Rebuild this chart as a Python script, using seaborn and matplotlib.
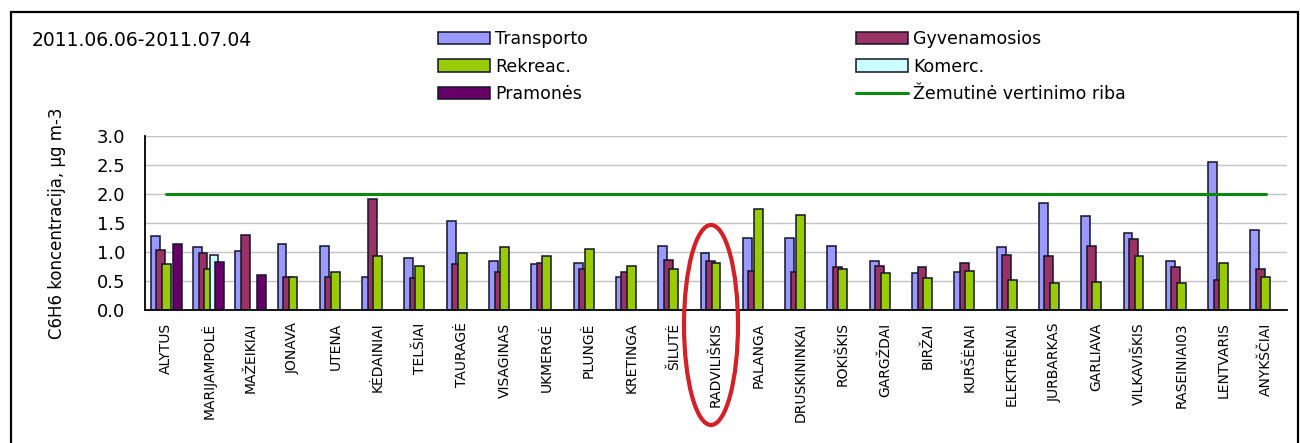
import numpy as np
import pandas as pd
import seaborn as sns
import matplotlib.pyplot as plt
from matplotlib.patches import Patch, Ellipse, Rectangle
from matplotlib.lines import Line2D

stations = ['ALYTUS', 'MARIJAMPOLĖ', 'MAŽEIKIAI', 'JONAVA', 'UTENA', 'KĖDAINIAI',
            'TELŠIAI', 'TAURAGĖ', 'VISAGINAS', 'UKMERGĖ', 'PLUNGĖ', 'KRETINGA',
            'ŠILUTĖ', 'RADVILIŠKIS', 'PALANGA', 'DRUSKININKAI', 'ROKIŠKIS',
            'GARGŽDAI', 'BIRŽAI', 'KURŠĖNAI', 'ELEKTRĖNAI', 'JURBARKAS',
            'GARLIAVA', 'VILKAVIŠKIS', 'RASEINIAI03', 'LENTVARIS', 'ANYKŠČIAI']
nan = np.nan
transporto = [1.28, 1.09, 1.01, 1.14, 1.11, 0.57, 0.90, 1.54, 0.84, 0.79, 0.81, 0.57, 1.11, 0.98,
              1.25, 1.25, 1.11, 0.84, 0.63, 0.66, 1.09, 1.84, 1.62, 1.32, 0.84, 2.56, 1.38]
gyvenamosios = [1.03, 0.98, 1.30, 0.57, 0.57, 1.91, 0.55, 0.79, 0.65, 0.81, 0.71, 0.65, 0.87, 0.84,
                0.68, 0.65, 0.74, 0.76, 0.74, 0.81, 0.95, 0.93, 1.11, 1.22, 0.74, 0.52, 0.71]
rekreac = [0.79, 0.71, nan, 0.57, 0.65, 0.93, 0.76, 0.99, 1.08, 0.93, 1.05, 0.76, 0.71, 0.81,
           1.75, 1.64, 0.71, 0.63, 0.55, 0.68, 0.52, 0.47, 0.49, 0.93, 0.47, 0.81, 0.57]
komerc = [nan, 0.95] + [nan] * 25
pramones = [1.14, 0.82, 0.60] + [nan] * 24
riba = 2.0

series = ['Transporto', 'Gyvenamosios', 'Rekreac.', 'Komerc.', 'Pramonės']
colors = ['#9999ff', '#993366', '#99cc00', '#ccffff', '#660066']
line_label = 'Žemutinė vertinimo riba'

df = pd.DataFrame({'station': stations, 'Transporto': transporto, 'Gyvenamosios': gyvenamosios,
                   'Rekreac.': rekreac, 'Komerc.': komerc, 'Pramonės': pramones})
long_df = df.melt(id_vars='station', var_name='series', value_name='value').dropna()

sns.set_style('white')
plt.rcParams['font.family'] = ['DejaVu Sans']
plt.rcParams.update({'text.color': 'black', 'axes.labelcolor': 'black',
                     'xtick.color': 'black', 'ytick.color': 'black'})

fig = plt.figure(figsize=(13, 4.43), dpi=100)
ax = fig.add_axes([145/1300, 1-310/443, 1142/1300, 174/443])

sns.barplot(data=long_df, x='station', y='value', hue='series', order=stations,
            hue_order=series, palette=colors, width=0.65, edgecolor='#141428',
            linewidth=1.1, saturation=1, legend=False, ax=ax)

# Excel-style overlapping bars: widen each bar around its own centre
for p in ax.patches:
    cx = p.get_x() + p.get_width() / 2
    p.set_width(0.21)
    p.set_x(cx - 0.105)

n = len(stations)
sns.lineplot(x=np.arange(n), y=[riba] * n, color='#0a8a0a', linewidth=2.2, ax=ax)

ax.set_xlim(-0.5, n - 0.5)
ax.set_ylim(0, 3)
ax.set_yticks(np.arange(0, 3.01, 0.5))
ax.set_yticklabels([f'{v:.1f}' for v in np.arange(0, 3.01, 0.5)])
ax.yaxis.grid(True, color='#c4c4c4', linewidth=1)
ax.set_axisbelow(True)

ax.set_xticks(range(n))
ax.set_xticklabels(stations, rotation=90, fontsize=10)
ax.set_xticks(np.arange(-0.5, n, 1), minor=True)
ax.tick_params(axis='x', which='major', length=0, pad=9)
ax.tick_params(axis='x', which='minor', length=5, width=1.3, direction='out', color='black')
ax.tick_params(axis='y', length=8, width=1.3, direction='out', color='black', pad=6, labelsize=13)

for s in ['top', 'right']:
    ax.spines[s].set_visible(False)
for s in ['left', 'bottom']:
    ax.spines[s].set_color('black')
    ax.spines[s].set_linewidth(1.3)

ax.set_xlabel('')
ax.set_ylabel('C6H6 koncentracija, µg m-3', fontsize=12)
ax.yaxis.set_label_coords(-0.069, 0.5)

fig.text(32/1300, 1-31/443, '2011.06.06-2011.07.04', fontsize=13.5, va='top', ha='left')

handles = [Patch(facecolor=c, edgecolor='#141428', linewidth=1.1) for c in colors]
line_handle = Line2D([0], [0], color='#0a8a0a', linewidth=2.2)
leg1 = fig.legend([handles[0], handles[2], handles[4]], [series[0], series[2], series[4]],
                  loc='upper left', bbox_to_anchor=(438/1300, 1-30/443), frameon=False,
                  fontsize=12.5, handlelength=3.0, handletextpad=0.3, labelspacing=0.55,
                  borderpad=0, borderaxespad=0)
leg2 = fig.legend([handles[1], handles[3], line_handle], [series[1], series[3], line_label],
                  loc='upper left', bbox_to_anchor=(856/1300, 1-30/443), frameon=False,
                  fontsize=12.5, handlelength=3.0, handletextpad=0.3, labelspacing=0.55,
                  borderpad=0, borderaxespad=0)

# red ellipse highlighting RADVILIŠKIS
fig.add_artist(Ellipse((711/1300, 1-325/443), 54/1300, 200/443, transform=fig.transFigure,
                       fill=False, edgecolor='#d42026', linewidth=3))

# outer frame
fig.add_artist(Rectangle((11/1300, -0.1), 1287/1300, 1.1-12/443, transform=fig.transFigure,
                         fill=False, edgecolor='black', linewidth=1.6, clip_on=False))

fig.savefig('out.png', dpi=100)
